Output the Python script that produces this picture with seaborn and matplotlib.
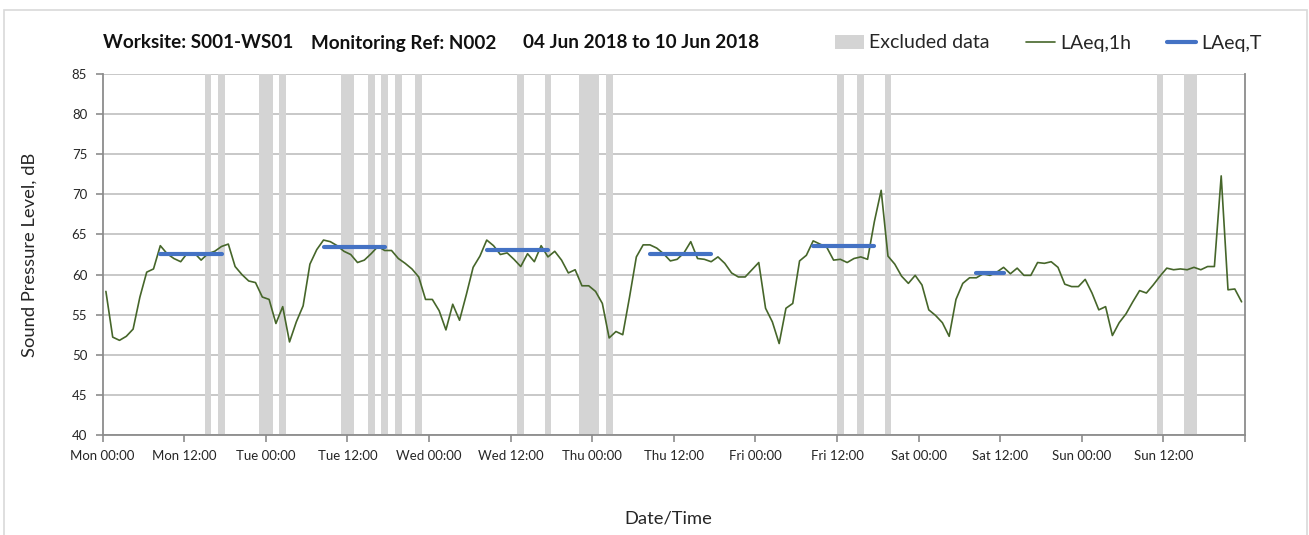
import numpy as np
import pandas as pd
import matplotlib
matplotlib.use("Agg")
import matplotlib.pyplot as plt
import seaborn as sns
from matplotlib.patches import Patch, Rectangle
from matplotlib.lines import Line2D

# ---------------- data ----------------
hours = np.arange(168)  # hour index from Mon 00:00
laeq_1h = [
    57.9, 52.2, 51.8, 52.3, 53.2, 57.2, 60.3, 60.7, 63.6, 62.6, 62.0, 61.6,
    62.7, 62.7, 61.8, 62.6, 62.9, 63.5, 63.8, 61.0, 60.0, 59.2, 59.0, 57.2,
    56.9, 53.9, 56.0, 51.6, 54.1, 56.1, 61.3, 63.1, 64.3, 64.1, 63.6, 62.9,
    62.5, 61.5, 61.8, 62.6, 63.5, 63.0, 63.0, 62.0, 61.4, 60.7, 59.7, 56.9,
    56.9, 55.5, 53.1, 56.3, 54.3, 57.5, 60.9, 62.3, 64.3, 63.6, 62.5, 62.7,
    61.9, 61.0, 62.6, 61.6, 63.6, 62.2, 62.9, 61.8, 60.2, 60.6, 58.6, 58.6,
    57.9, 56.4, 52.1, 52.9, 52.5, 57.2, 62.2, 63.7, 63.7, 63.3, 62.6, 61.7,
    61.9, 62.7, 64.1, 62.0, 61.9, 61.6, 62.2, 61.4, 60.2, 59.7, 59.7, 60.6,
    61.5, 55.8, 54.1, 51.4, 55.8, 56.4, 61.7, 62.4, 64.2, 63.8, 63.4, 61.8,
    61.9, 61.5, 62.0, 62.2, 61.9, 66.6, 70.5, 62.3, 61.3, 59.8, 58.9, 59.9,
    58.7, 55.6, 54.9, 54.0, 52.3, 56.9, 58.9, 59.6, 59.6, 60.1, 59.9, 60.3,
    60.9, 60.1, 60.8, 59.9, 59.9, 61.5, 61.4, 61.6, 60.9, 58.8, 58.5, 58.5,
    59.4, 57.7, 55.6, 56.0, 52.4, 54.0, 55.1, 56.6, 58.0, 57.7, 58.7, 59.8,
    60.8, 60.6, 60.7, 60.6, 60.9, 60.6, 61.0, 61.0, 72.3, 58.1, 58.2, 56.6,
]
excluded_hours = [15, 17, 23, 24, 26, 35, 36, 39, 41, 43, 46, 61, 65,
                  70, 71, 72, 74, 108, 111, 115, 155, 159, 160]
laeq_t_start = [8, 32, 56, 80, 104, 128]
laeq_t_end = [17, 41, 65, 89, 113, 132]
laeq_t_value = [62.6, 63.4, 63.1, 62.6, 63.5, 60.2]

tick_labels = ["Mon 00:00", "Mon 12:00", "Tue 00:00", "Tue 12:00",
               "Wed 00:00", "Wed 12:00", "Thu 00:00", "Thu 12:00",
               "Fri 00:00", "Fri 12:00", "Sat 00:00", "Sat 12:00",
               "Sun 00:00", "Sun 12:00", ""]
title_parts = ["Worksite: S001-WS01", "Monitoring Ref: N002",
               "04 Jun 2018 to 10 Jun 2018"]
legend_labels = ["Excluded data", "LAeq,1h", "LAeq,T"]

# ---------------- style ----------------
sns.set_theme(style="white")
plt.rcParams['font.family'] = ['Lato', 'DejaVu Sans']

W, H = 1309, 535
fig = plt.figure(figsize=(W / 100, H / 100), dpi=100)
ax = fig.add_axes([102.5 / W, 1 - 435 / H, (1245 - 102.5) / W, (435 - 74) / H])

GREEN = "#46662a"
BLUE = "#4472c4"
BAND = "#d4d4d4"

# excluded data bands
ax.bar(excluded_hours, [45] * len(excluded_hours), bottom=40, width=1.0,
       align="edge", color=BAND, linewidth=0, zorder=1)

# hourly LAeq line
df1 = pd.DataFrame({"t": hours + 0.5, "v": laeq_1h})
sns.lineplot(data=df1, x="t", y="v", color=GREEN, linewidth=1.2, ax=ax,
             zorder=3, estimator=None)

# LAeq,T period lines
rows = []
for k, (s, e, v) in enumerate(zip(laeq_t_start, laeq_t_end, laeq_t_value)):
    rows.append({"t": s + 0.5, "v": v, "p": k})
    rows.append({"t": e + 0.5, "v": v, "p": k})
dft = pd.DataFrame(rows)
sns.lineplot(data=dft, x="t", y="v", units="p", estimator=None, color=BLUE,
             linewidth=3, ax=ax, zorder=4)

# axes
ax.set_xlim(0, 168)
ax.set_ylim(40, 85)
ax.set_yticks(np.arange(40, 86, 5))
ax.set_xticks(np.arange(0, 169, 12))
ax.set_xticklabels(tick_labels)
ax.set_xticks(np.arange(24, 168, 24), minor=True)
ax.grid(axis="y", which="major", color="#c4c4c4", linewidth=1.3, zorder=0)
ax.grid(axis="x", which="minor", color="#dcdcdc", linewidth=1.0, zorder=0)
ax.grid(axis="x", which="major", visible=False)
ax.set_axisbelow(True)
ax.tick_params(axis="x", which="minor", length=0)
ax.tick_params(axis="both", which="major", length=5, width=1.2,
               color="#8c8c8c", labelsize=9.5, labelcolor="#262626",
               direction="out", bottom=True, left=True)
ax.tick_params(axis="x", pad=6)
ax.tick_params(axis="y", pad=6)
for side in ["left", "bottom", "right"]:
    ax.spines[side].set_color("#8c8c8c")
    ax.spines[side].set_linewidth(1.3)
ax.spines["top"].set_visible(False)

ax.set_ylabel("Sound Pressure Level, dB", fontsize=13.2, color="#262626")
ax.yaxis.set_label_coords(-0.0565, 0.5)
ax.set_xlabel("Date/Time", fontsize=13.2, color="#262626")
ax.xaxis.set_label_coords(0.495, -0.21)

# title parts
for xpos, txt in zip([103, 311, 523], title_parts):
    fig.text(xpos / W, 1 - 43 / H, txt, fontsize=13.6, fontweight="bold",
             color="#111111", ha="left", va="center")

# legend
handles = [Patch(facecolor=BAND, edgecolor="none"),
           Line2D([], [], color=GREEN, linewidth=1.2),
           Line2D([], [], color=BLUE, linewidth=3)]
fig.legend(handles, legend_labels, loc="center left",
           bbox_to_anchor=(835 / W, 1 - 43 / H), ncol=3, frameon=False,
           fontsize=14, handlelength=1.5, handletextpad=0.26,
           columnspacing=1.85, borderpad=0, borderaxespad=0,
           labelcolor="#262626")

# outer chart border
fig.add_artist(Rectangle((4 / W, -0.05), (1307 - 4) / W, 1.05 - 10 / H,
                         transform=fig.transFigure, fill=False,
                         edgecolor="#d9d9d9", linewidth=1.2))

fig.savefig("out.png", dpi=100)
